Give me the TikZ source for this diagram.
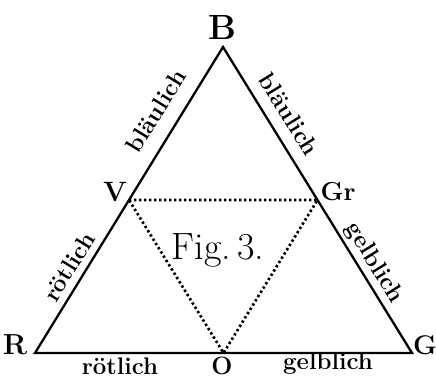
\documentclass[tikz,border=0pt]{standalone}
\usepackage{fontspec}
\begin{document}
\begin{tikzpicture}[x=1pt,y=-1pt,
  edge/.style={line width=2.3pt},
  dotline/.style={line width=2.7pt, dash pattern=on 2.4pt off 2.6pt},
  vlabel/.style={font=\bfseries\fontsize{29}{31}\selectfont, inner sep=0pt},
  slabel/.style={font=\bfseries\fontsize{24}{26}\selectfont, inner sep=0pt}]
\useasboundingbox (0,0) rectangle (436,379);
% vertices
\coordinate (Bp) at (223,47);
\coordinate (Rp) at (35,353);
\coordinate (Gp) at (412,353);
\coordinate (Vp) at (129,200);
\coordinate (Grp) at (317.5,200);
\coordinate (Op) at (223.5,353);
% outer triangle
\draw[edge, line join=miter] (Rp) -- (Bp) -- (Gp) -- cycle;
% inner dotted triangle
\draw[dotline] (Vp) -- (Grp) -- (Op) -- cycle;
% vertex labels
\node[vlabel, font=\bfseries\fontsize{35}{37}\selectfont] (B) at (222,27) {B};
\node[vlabel] (R) at (15,345) {R};
\node[vlabel, font=\bfseries\fontsize{27}{29}\selectfont] (G) at (425,345) {G};
\node[vlabel, font=\bfseries\fontsize{28}{30}\selectfont] (V) at (115,192) {V};
\node[vlabel, font=\bfseries\fontsize{26}{28}\selectfont] (Gr) at (338,192) {Gr};
\node[vlabel, font=\bfseries\fontsize{25}{27}\selectfont] (O) at (222,365.5) {O};
\node[inner sep=0pt, font=\fontsize{38}{40}\selectfont] (fig) at (218,250) {Fig.\,3.};
% side labels
\node[slabel] (rb) at (120,366) {rötlich};
\node[slabel] (gb) at (328,364) {gelblich};
\node[slabel, rotate=58.4] (bl) at (156,111) {bläulich};
\node[slabel, rotate=-58.4] (br) at (289,114) {bläulich};
\node[slabel, rotate=58.4] (rl) at (69,267) {rötlich};
\node[slabel, rotate=-58.4] (gr) at (374,263) {gelblich};
\end{tikzpicture}
\end{document}
